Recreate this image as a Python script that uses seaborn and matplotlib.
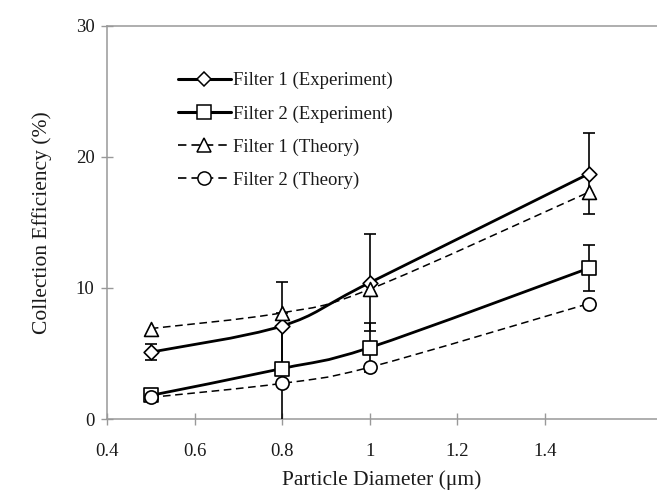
import numpy as np
import pandas as pd
import matplotlib
matplotlib.use("Agg")
import matplotlib.pyplot as plt
import seaborn as sns
from matplotlib.path import Path
from matplotlib.patches import PathPatch
from matplotlib.lines import Line2D

# ---- data ----
diameter = [0.5, 0.8, 1.0, 1.5]
f1_exp = [5.1, 7.1, 10.4, 18.7]
f1_exp_err = [0.6, 3.35, 3.7, 3.1]
f2_exp = [1.8, 3.85, 5.45, 11.5]
f2_exp_err = [0.2, 4.2, 1.9, 1.75]
f1_th = [6.9, 8.1, 9.9, 17.3]
f2_th = [1.65, 2.72, 3.95, 8.8]
labels = ["Filter 1 (Experiment)", "Filter 2 (Experiment)",
          "Filter 1 (Theory)", "Filter 2 (Theory)"]
xticks = [0.4, 0.6, 0.8, 1.0, 1.2, 1.4]
xticklabels = ["0.4", "0.6", "0.8", "1", "1.2", "1.4"]
yticks = [0, 10, 20, 30]

sns.set_style("ticks")
plt.rcParams['font.family'] = ['Liberation Serif', 'DejaVu Serif']
plt.rcParams['mathtext.fontset'] = 'stix'

fig = plt.figure(figsize=(6.57, 4.95), dpi=100)
ax = fig.add_axes([107/657, 76/495, 1 - 107/657, (419 - 25.7)/495])


def smooth_path(xs, ys):
    """Excel-style smoothed line: Bezier segments with Catmull-Rom controls."""
    P = np.column_stack([xs, ys]).astype(float)
    n = len(P)
    verts = [P[0]]
    codes = [Path.MOVETO]
    for i in range(n - 1):
        p0 = P[i - 1] if i > 0 else P[i]
        p1 = P[i]
        p2 = P[i + 1]
        p3 = P[i + 2] if i + 2 < n else P[i + 1]
        c1 = p1 + (p2 - p0) / 6.0
        c2 = p2 - (p3 - p1) / 6.0
        verts += [c1, c2, p2]
        codes += [Path.CURVE4] * 3
    return Path(verts, codes)


series = [
    (f1_exp, f1_exp_err, 'D', '-', 2.0, 7.5),
    (f2_exp, f2_exp_err, 's', '-', 2.0, 9.5),
    (f1_th, None, '^', '--', 1.1, 10),
    (f2_th, None, 'o', '--', 1.1, 9.5),
]

for vals, err, mk, ls, lw, ms in series:
    patch = PathPatch(smooth_path(diameter, vals), facecolor='none',
                      edgecolor='black', lw=lw, linestyle=ls, zorder=2)
    if ls == '--':
        patch.set_linestyle((0, (5, 3)))
    ax.add_patch(patch)

for vals, err, mk, ls, lw, ms in series:
    if err is not None:
        ax.errorbar(diameter, vals, yerr=err, fmt='none', ecolor='black',
                    elinewidth=1.2, capsize=4, capthick=1.2, zorder=3)

for vals, err, mk, ls, lw, ms in series:
    df = pd.DataFrame({"x": diameter, "y": vals})
    sns.scatterplot(data=df, x="x", y="y", marker=mk, s=ms ** 2,
                    facecolor='white', edgecolor='black', linewidth=1.2,
                    ax=ax, zorder=4, legend=False)

ax.set_xlim(0.4, 1.656)
ax.set_ylim(0, 30)
ax.set_xticks(xticks)
ax.set_xticklabels(xticklabels)
ax.set_yticks(yticks)
ax.tick_params(axis='both', direction='inout', length=8, width=1,
               color='#999999', labelsize=13.5, labelcolor='#1a1a1a')
ax.tick_params(axis='y', pad=5)
ax.tick_params(axis='x', pad=13)
for s in ['left', 'bottom', 'top']:
    ax.spines[s].set_color('#999999')
    ax.spines[s].set_linewidth(1.1)
ax.spines['right'].set_visible(False)

ax.set_xlabel("Particle Diameter (μm)", fontsize=15.5, color='#1a1a1a', labelpad=8)
ax.set_ylabel("Collection Efficiency (%)", fontsize=15.5, color='#1a1a1a', labelpad=17)

handles = []
for (vals, err, mk, ls, lw, ms), lab in zip(series, labels):
    h = Line2D([], [], color='black', lw=lw * 1.1,
               linestyle='-' if ls == '-' else (0, (5, 3)),
               marker=mk, markersize=ms, markerfacecolor='white',
               markeredgecolor='black', markeredgewidth=1.1)
    handles.append(h)
leg = ax.legend(handles, labels, loc='upper left', frameon=False,
                bbox_to_anchor=(178/657, 1 - 72/495), bbox_transform=fig.transFigure,
                fontsize=13.5, handlelength=2.8, handletextpad=0.15,
                labelspacing=0.85, borderpad=0, borderaxespad=0)
for t in leg.get_texts():
    t.set_color('#1a1a1a')

fig.savefig("out.png", dpi=100)
